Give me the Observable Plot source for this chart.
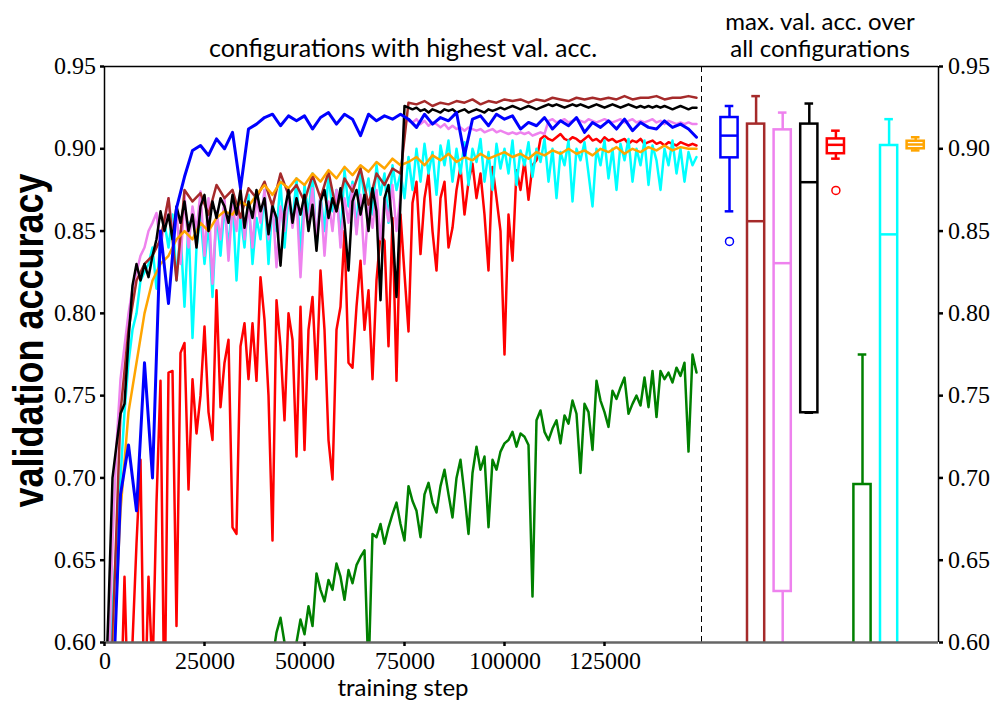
<!DOCTYPE html>
<html><head><meta charset="utf-8">
<script src="https://cdn.jsdelivr.net/npm/d3@7"></script>
<script src="https://cdn.jsdelivr.net/npm/@observablehq/plot@0.6"></script>
<style>
@font-face { font-family: "RefSerif"; src: local("Liberation Serif"), local("LiberationSerif"), local("LiberationSerif-Regular"), local("Liberation Serif Regular"), local("Times New Roman"), local("DejaVu Serif"), local("DejaVuSerif"); }
body{margin:0;background:#fff}
</style>
</head><body><div id="chart"></div>
<script>
// ---- data ----
const fineSteps = d3.range(0, 149000, 1000);   // 0 .. 148000, every 1000
const coarseSteps = d3.range(0, 150000, 2000); // 0 .. 148000, every 2000
const xTicks = [0, 25000, 50000, 75000, 100000, 125000];
const yTicks = [0.60, 0.65, 0.70, 0.75, 0.80, 0.85, 0.90, 0.95];

// sampled every 2000 steps
const blueAcc = [
 0.50,0.56,0.69,0.72,0.68,0.77,0.70,0.85,0.806,0.864,
 0.883,0.899,0.902,0.896,0.906,0.900,0.910,0.876,0.912,0.915,
 0.919,0.921,0.914,0.920,0.917,0.920,0.912,0.919,0.922,0.915,
 0.921,0.918,0.908,0.921,0.917,0.920,0.918,0.921,0.918,0.913,
 0.921,0.915,0.919,0.917,0.922,0.896,0.918,0.920,0.914,0.921,
 0.918,0.920,0.912,0.916,0.914,0.919,0.912,0.917,0.914,0.919,
 0.910,0.916,0.913,0.917,0.912,0.918,0.911,0.916,0.913,0.912,
 0.917,0.913,0.915,0.912,0.907];
const brownAcc = [
 0.50,0.60,0.74,0.79,0.82,0.83,0.835,0.845,0.870,0.820,
 0.875,0.868,0.873,0.860,0.878,0.870,0.875,0.858,0.876,0.870,
 0.880,0.865,0.885,0.872,0.878,0.868,0.884,0.870,0.886,0.862,
 0.882,0.874,0.888,0.866,0.885,0.878,0.888,0.885,0.928,0.927,
 0.929,0.926,0.928,0.927,0.929,0.928,0.930,0.927,0.929,0.928,
 0.930,0.929,0.930,0.928,0.930,0.929,0.931,0.930,0.929,0.931,
 0.930,0.931,0.930,0.931,0.930,0.932,0.930,0.931,0.931,0.932,
 0.930,0.931,0.931,0.932,0.931];
const orangeAcc = [
 0.50,0.58,0.68,0.74,0.77,0.80,0.82,0.83,0.835,0.845,
 0.850,0.845,0.855,0.850,0.858,0.862,0.860,0.868,0.865,0.872,
 0.878,0.872,0.880,0.876,0.882,0.878,0.885,0.880,0.887,0.882,
 0.889,0.884,0.890,0.886,0.892,0.888,0.894,0.890,0.892,0.895,
 0.890,0.896,0.893,0.897,0.892,0.895,0.893,0.897,0.894,0.896,
 0.898,0.895,0.897,0.894,0.898,0.896,0.899,0.897,0.900,0.897,
 0.899,0.896,0.900,0.898,0.901,0.897,0.900,0.898,0.901,0.899,
 0.902,0.899,0.901,0.900,0.900];
// sampled every 1000 steps
const violetAcc = [
 0.50,0.58,0.66,0.72,0.76,0.78,0.80,0.815,0.825,0.835,
 0.84,0.85,0.855,0.861,0.84,0.855,0.87,0.85,0.862,0.83,
 0.872,0.84,0.865,0.85,0.874,0.835,0.87,0.818,0.862,0.845,
 0.87,0.832,0.866,0.85,0.876,0.845,0.866,0.84,0.872,0.855,
 0.875,0.845,0.868,0.828,0.865,0.85,0.874,0.852,0.87,0.822,
 0.866,0.855,0.876,0.845,0.872,0.835,0.868,0.85,0.875,0.84,
 0.87,0.855,0.878,0.848,0.872,0.83,0.866,0.852,0.875,0.845,
 0.87,0.856,0.878,0.85,0.872,0.918,0.917,0.916,0.918,0.915,
 0.917,0.914,0.916,0.915,0.913,0.915,0.912,0.914,0.912,0.913,
 0.911,0.913,0.912,0.911,0.912,0.91,0.911,0.912,0.91,0.911,
 0.91,0.909,0.91,0.909,0.91,0.909,0.91,0.908,0.909,0.91,
 0.909,0.917,0.918,0.916,0.917,0.918,0.916,0.917,0.918,0.917,
 0.916,0.918,0.917,0.916,0.917,0.918,0.917,0.916,0.917,0.918,
 0.916,0.917,0.918,0.916,0.917,0.916,0.917,0.918,0.916,0.917,
 0.915,0.917,0.916,0.915,0.916,0.915,0.916,0.915,0.915];
const blackAcc = [
 0.55,0.62,0.70,0.72,0.739,0.745,0.784,0.817,0.83,0.82,
 0.83,0.822,0.835,0.845,0.862,0.85,0.86,0.845,0.865,0.855,
 0.868,0.85,0.86,0.84,0.865,0.872,0.85,0.868,0.858,0.87,
 0.865,0.855,0.872,0.86,0.875,0.852,0.868,0.858,0.875,0.862,
 0.87,0.848,0.865,0.858,0.829,0.862,0.875,0.855,0.87,0.86,
 0.872,0.85,0.866,0.838,0.868,0.875,0.858,0.87,0.862,0.876,
 0.855,0.826,0.868,0.875,0.86,0.872,0.85,0.876,0.862,0.808,
 0.87,0.878,0.852,0.81,0.868,0.926,0.925,0.924,0.925,0.923,
 0.924,0.922,0.924,0.923,0.922,0.924,0.923,0.924,0.922,0.923,
 0.924,0.922,0.923,0.924,0.923,0.922,0.924,0.923,0.924,0.925,
 0.924,0.925,0.926,0.925,0.924,0.925,0.926,0.925,0.924,0.925,
 0.926,0.927,0.926,0.927,0.926,0.925,0.926,0.927,0.926,0.927,
 0.926,0.925,0.926,0.927,0.926,0.925,0.926,0.927,0.926,0.925,
 0.926,0.927,0.926,0.925,0.926,0.925,0.926,0.925,0.926,0.925,
 0.926,0.925,0.924,0.925,0.926,0.925,0.924,0.925,0.925];
const redAcc = [
 0.50,0.50,0.50,0.50,0.55,0.64,0.55,0.60,0.66,0.711,
 0.55,0.64,0.58,0.685,0.759,0.55,0.764,0.765,0.61,0.776,
 0.782,0.693,0.76,0.727,0.75,0.792,0.74,0.723,0.814,0.743,
 0.77,0.784,0.67,0.666,0.78,0.794,0.76,0.794,0.759,0.822,
 0.796,0.75,0.662,0.808,0.78,0.735,0.80,0.784,0.713,0.804,
 0.717,0.79,0.81,0.76,0.826,0.79,0.723,0.699,0.79,0.804,
 0.85,0.77,0.767,0.804,0.832,0.79,0.814,0.76,0.82,0.848,
 0.844,0.78,0.858,0.759,0.86,0.824,0.789,0.867,0.88,0.836,
 0.87,0.885,0.85,0.826,0.87,0.88,0.84,0.852,0.875,0.889,
 0.86,0.88,0.891,0.87,0.885,0.86,0.826,0.889,0.87,0.85,
 0.775,0.86,0.832,0.887,0.875,0.893,0.869,0.89,0.893,0.906,
 0.908,0.906,0.905,0.907,0.909,0.906,0.905,0.907,0.906,0.904,
 0.906,0.908,0.905,0.906,0.904,0.907,0.905,0.906,0.904,0.905,
 0.906,0.903,0.905,0.904,0.906,0.903,0.904,0.905,0.903,0.904,
 0.902,0.904,0.903,0.902,0.904,0.903,0.902,0.903,0.902];
const cyanAcc = [
 0.50,0.55,0.62,0.66,0.70,0.74,0.77,0.79,0.80,0.82,
 0.825,0.83,0.84,0.815,0.845,0.855,0.84,0.86,0.82,0.85,
 0.804,0.855,0.785,0.84,0.86,0.83,0.855,0.81,0.862,0.835,
 0.865,0.84,0.87,0.82,0.86,0.84,0.872,0.83,0.858,0.845,
 0.875,0.83,0.868,0.85,0.88,0.84,0.87,0.855,0.882,0.835,
 0.878,0.86,0.885,0.84,0.872,0.85,0.885,0.862,0.875,0.845,
 0.887,0.865,0.88,0.85,0.888,0.87,0.882,0.86,0.89,0.872,
 0.885,0.855,0.89,0.875,0.885,0.87,0.895,0.875,0.90,0.88,
 0.903,0.885,0.898,0.872,0.902,0.89,0.905,0.88,0.90,0.885,
 0.904,0.878,0.90,0.892,0.906,0.88,0.898,0.875,0.903,0.888,
 0.90,0.885,0.905,0.878,0.899,0.89,0.904,0.883,0.90,0.892,
 0.906,0.88,0.90,0.87,0.898,0.89,0.905,0.868,0.90,0.893,
 0.904,0.885,0.865,0.90,0.89,0.905,0.882,0.90,0.875,0.903,
 0.893,0.906,0.88,0.90,0.89,0.905,0.878,0.902,0.893,0.875,
 0.90,0.89,0.905,0.885,0.90,0.88,0.898,0.89,0.895];
const greenAcc = [
 null,null,null,null,null,null,null,null,null,null,
 null,null,null,null,null,null,null,null,null,null,
 null,null,null,null,null,null,null,null,null,null,
 null,null,null,null,null,null,null,null,null,null,
 null,0.57,0.59,0.606,0.615,0.60,0.59,0.585,0.60,0.614,
 0.605,0.622,0.61,0.642,0.632,0.625,0.638,0.632,0.648,0.64,
 0.626,0.644,0.636,0.647,0.652,0.656,0.58,0.666,0.664,0.672,
 0.66,0.67,0.678,0.685,0.672,0.662,0.695,0.686,0.68,0.664,
 0.69,0.697,0.685,0.679,0.695,0.705,0.69,0.676,0.70,0.711,
 0.69,0.666,0.703,0.719,0.705,0.713,0.67,0.711,0.705,0.716,
 0.721,0.723,0.728,0.719,0.727,0.725,0.72,0.628,0.735,0.741,
 0.728,0.723,0.73,0.735,0.721,0.738,0.733,0.747,0.739,0.703,
 0.745,0.74,0.717,0.759,0.747,0.74,0.731,0.753,0.748,0.755,
 0.761,0.739,0.745,0.75,0.744,0.761,0.743,0.765,0.737,0.765,
 0.76,0.764,0.758,0.767,0.762,0.77,0.716,0.775,0.764];

// box plot summaries (max val. acc. over all configurations)
const boxNames      = ["blue","brown","violet","black","red","green","cyan","orange"];
const boxWhiskerHi  = [0.926, 0.932, 0.922, 0.9275, 0.911, 0.775, 0.918, 0.907];
const boxQ3         = [0.919, 0.915, 0.9115, 0.915, 0.906, 0.696, 0.902, 0.9046];
const boxMedian     = [0.908, 0.856, 0.8305, 0.8797, 0.9024, 0.55, 0.848, 0.9026];
const boxQ1         = [0.8945, 0.50, 0.631, 0.7396, 0.897, 0.50, 0.50, 0.900];
const boxWhiskerLo  = [0.862, 0.45, 0.45, 0.7396, 0.894, 0.45, 0.45, 0.899];
const outlierNames  = ["blue", "red"];
const outlierValues = [0.8437, 0.8747];

const colors = {blue:"#0000ff", brown:"#a52a2a", violet:"#ee82ee", black:"#000000",
  red:"#ff0000", green:"#008000", cyan:"#00ffff", orange:"#ffa500"};
const seriesValues = {blue:blueAcc, brown:brownAcc, violet:violetAcc, black:blackAcc,
  red:redAcc, green:greenAcc, cyan:cyanAcc, orange:orangeAcc};
const seriesSteps = {blue:coarseSteps, brown:coarseSteps, violet:fineSteps, black:fineSteps,
  red:fineSteps, green:fineSteps, cyan:fineSteps, orange:coarseSteps};
const drawOrder = ["red","green","cyan","violet","brown","orange","black","blue"];

const titleLeft = "configurations with highest val. acc.";
const titleRight = "max. val. acc. over\nall configurations";
const xLabel = "training step";
const yLabel = "validation accuracy";

// ---- layout constants (step units on the shared x scale) ----
const dividerStep = 149250;
const xMax = 208500;
const boxFirst = 156250, boxGap = 6650, boxHalf = 2150;

const boxes = boxNames.map((n, i) => ({
  name: n, c: boxFirst + i * boxGap,
  hi: boxWhiskerHi[i], q3: boxQ3[i], med: boxMedian[i], q1: boxQ1[i], lo: boxWhiskerLo[i]
}));
const outliers = outlierNames.map((n, i) => ({
  name: n, c: boxFirst + boxNames.indexOf(n) * boxGap, v: outlierValues[i]
}));

const sans = "Lato, 'DejaVu Sans', sans-serif";
const serifStack = "RefSerif, 'Liberation Serif', 'Times New Roman', Times, 'DejaVu Serif', serif";
const fmtY = d3.format(".2f");
const col = d => colors[d.name];

const marks = [];
for (const n of drawOrder) {
  const rows = seriesSteps[n].map((s, i) => ({step: s, acc: seriesValues[n][i]}));
  marks.push(Plot.line(rows, {x: "step", y: "acc", stroke: colors[n],
    strokeWidth: n === "blue" ? 3 : 2.5, clip: true, strokeLinejoin: "round"}));
}
marks.push(
  Plot.rect(boxes, {x1: d => d.c - boxHalf, x2: d => d.c + boxHalf, y1: "q1", y2: "q3",
    fill: "none", stroke: col, strokeWidth: 2.5, clip: true}),
  Plot.ruleY(boxes, {y: "med", x1: d => d.c - boxHalf, x2: d => d.c + boxHalf, stroke: col, strokeWidth: 2.5, clip: true}),
  Plot.ruleX(boxes, {x: "c", y1: "q3", y2: "hi", stroke: col, strokeWidth: 2.5, clip: true}),
  Plot.ruleX(boxes, {x: "c", y1: "lo", y2: "q1", stroke: col, strokeWidth: 2.5, clip: true}),
  Plot.ruleY(boxes, {y: "hi", x1: d => d.c - boxHalf / 2, x2: d => d.c + boxHalf / 2, stroke: col, strokeWidth: 2.5, clip: true}),
  Plot.ruleY(boxes, {y: "lo", x1: d => d.c - boxHalf / 2, x2: d => d.c + boxHalf / 2, stroke: col, strokeWidth: 2.5, clip: true}),
  Plot.dot(outliers, {x: "c", y: "v", r: 4, stroke: col, fill: "none", strokeWidth: 1.5}),
  Plot.ruleX([dividerStep], {stroke: "#000", strokeWidth: 1, strokeDasharray: "6,4"}),
  Plot.ruleY([0.95], {stroke: "#000", strokeWidth: 1.5}),
  Plot.ruleX([0, xMax], {stroke: "#000", strokeWidth: 1.5}),
  Plot.ruleY([0.6], {stroke: "#666", strokeWidth: 2.5}),
  // tick marks
  Plot.axisY(yTicks, {anchor: "left", tickFormat: () => "", label: null, tickSize: 4, strokeWidth: 2.5}),
  Plot.axisY(yTicks, {anchor: "right", tickFormat: () => "", label: null, tickSize: 4, strokeWidth: 2.5}),
  Plot.axisX(xTicks, {anchor: "bottom", tickFormat: () => "", label: null, tickSize: 4, strokeWidth: 2.5}),
  // tick labels (serif)
  Plot.text(yTicks, {y: d => d, text: d => fmtY(d), frameAnchor: "left", textAnchor: "end", lineAnchor: "middle",
    dx: -9, fontFamily: serifStack, fontSize: 24, fill: "#000", ariaLabel: "ticklabel"}),
  Plot.text(yTicks, {y: d => d, text: d => fmtY(d), frameAnchor: "right", textAnchor: "start", lineAnchor: "middle",
    dx: 9, fontFamily: serifStack, fontSize: 24, fill: "#000", ariaLabel: "ticklabel"}),
  Plot.text(xTicks, {x: d => d, text: d => String(d), frameAnchor: "bottom", lineAnchor: "middle",
    dy: 19, fontFamily: serifStack, fontSize: 24, fill: "#000", ariaLabel: "ticklabel"}),
  // titles & labels
  Plot.text([{x: dividerStep / 2, t: titleLeft}], {x: "x", text: "t", frameAnchor: "top", lineAnchor: "middle",
    dy: -18, fontFamily: sans, fontSize: 25, fill: "#000"}),
  Plot.text([{x: (dividerStep + xMax) / 2, t: titleRight}], {x: "x", text: "t", frameAnchor: "top",
    lineAnchor: "middle", dy: -32, fontFamily: sans, fontSize: 24, lineHeight: 1.13, fill: "#000"}),
  Plot.text([{x: dividerStep / 2, t: xLabel}], {x: "x", text: "t", frameAnchor: "bottom", lineAnchor: "middle",
    dy: 46, fontFamily: sans, fontSize: 24, fill: "#000"}),
  Plot.text([yLabel], {frameAnchor: "left", textAnchor: "middle", lineAnchor: "middle", rotate: -90, dx: -75, dy: -14,
    fontFamily: "'Liberation Sans', Arial, sans-serif", fontSize: 42, fontWeight: "bold", fill: "#000"})
);

const chart = Plot.plot({
  width: 1003, height: 713,
  marginLeft: 104, marginRight: 65, marginTop: 66, marginBottom: 71,
  x: {domain: [0, xMax], label: null},
  y: {domain: [0.6, 0.95], label: null},
  color: {type: "identity"},
  style: {background: "white", color: "#000"},
  marks
});
// serif tick labels (inline style) and a condensed axis title matching the reference length
const tickStrings = new Set([...yTicks.map(fmtY), ...xTicks.map(String)]);
d3.select(chart).selectAll("text")
  .filter(function () { return tickStrings.has(this.textContent); })
  .style("font-family", serifStack).style("font-size", "24px");
d3.select(chart).selectAll("text")
  .filter(function () { return this.textContent === yLabel; })
  .attr("textLength", 334).attr("lengthAdjust", "spacingAndGlyphs");
document.getElementById("chart").appendChild(chart);
</script>
</body></html>
